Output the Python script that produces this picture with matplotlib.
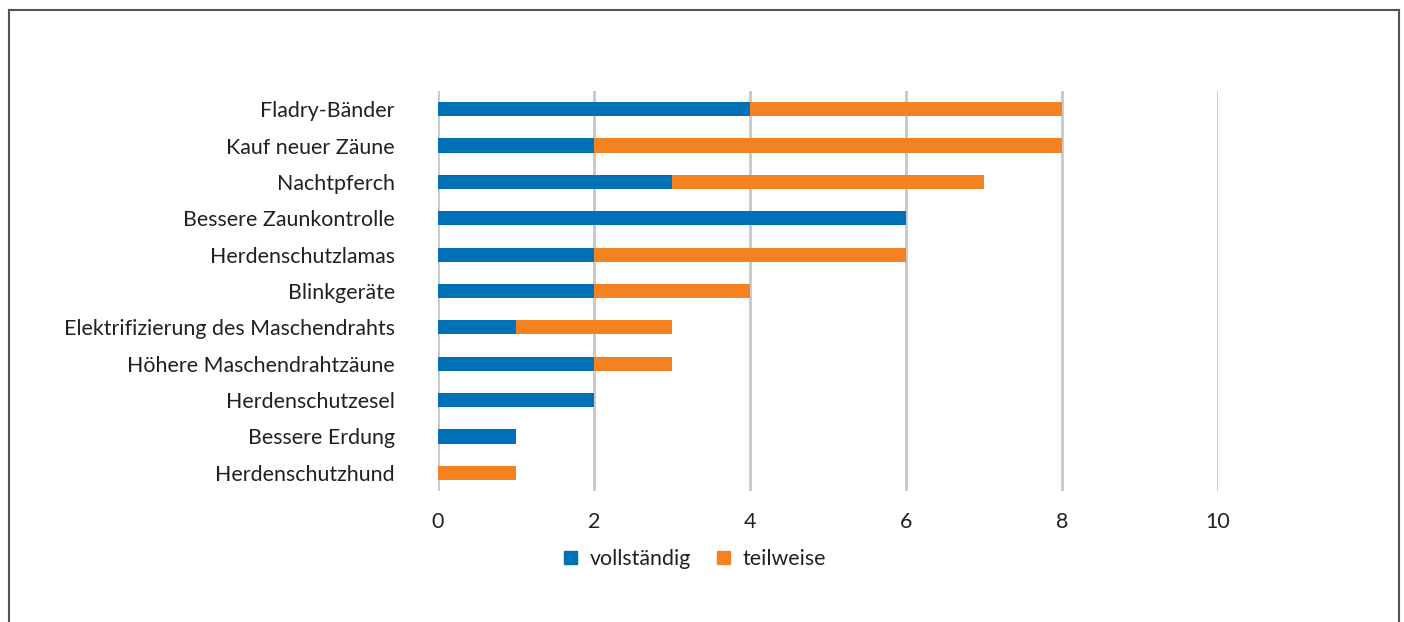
import matplotlib
matplotlib.use("Agg")
import matplotlib.pyplot as plt
from matplotlib.lines import Line2D
from matplotlib.patches import Patch

categories = ["Fladry-Bänder", "Kauf neuer Zäune", "Nachtpferch", "Bessere Zaunkontrolle",
              "Herdenschutzlamas", "Blinkgeräte", "Elektrifizierung des Maschendrahts",
              "Höhere Maschendrahtzäune", "Herdenschutzesel", "Bessere Erdung", "Herdenschutzhund"]
vollstaendig = [4, 2, 3, 6, 2, 2, 1, 2, 2, 1, 0]
teilweise = [4, 6, 4, 0, 4, 2, 2, 1, 0, 0, 1]
xticks = [0, 2, 4, 6, 8, 10]
series_names = ["vollständig", "teilweise"]

W, H = 1404, 622
fig = plt.figure(figsize=(W / 100, H / 100), dpi=100)
plt.rcParams['font.family'] = ['Lato', 'DejaVu Sans']
FS = 15.4

ax = fig.add_axes([438 / W, 1 - 491 / H, (1218 - 438) / W, (491 - 91) / H])
blue = "#0070B8"
orange = "#F58220"
y = list(range(len(categories)))
ax.barh(y, vollstaendig, height=0.39, color=blue, zorder=3)
ax.barh(y, teilweise, left=vollstaendig, height=0.39, color=orange, zorder=3)
ax.set_ylim(len(categories) - 0.5, -0.5)
ax.set_xlim(0, 10)
ax.set_xticks(xticks)
ax.set_xticklabels([str(t) for t in xticks])
ax.set_yticks(y)
ax.set_yticklabels(categories)
for t in xticks:
    ax.axvline(t, color="#C8C8C8", lw=2, zorder=1)
for s in ax.spines.values():
    s.set_visible(False)
ax.tick_params(axis="both", length=0, labelsize=FS, colors="#231F20")
ax.tick_params(axis="x", pad=15)
ax.tick_params(axis="y", pad=31)

handles = [Patch(color=blue), Patch(color=orange)]
fig.legend(handles, series_names, loc="center", bbox_to_anchor=(695 / W, 1 - 559 / H),
           ncol=2, frameon=False, fontsize=FS, handlelength=0.62, handleheight=0.62,
           handletextpad=0.6, columnspacing=1.2, labelcolor="#231F20")

# outer frame
fc = "#555555"
fig.add_artist(Line2D([9 / W, 9 / W], [0, 1 - 10 / H], transform=fig.transFigure, color=fc, lw=1.5))
fig.add_artist(Line2D([1399 / W, 1399 / W], [0, 1 - 10 / H], transform=fig.transFigure, color=fc, lw=1.5))
fig.add_artist(Line2D([9 / W, 1399 / W], [1 - 10 / H, 1 - 10 / H], transform=fig.transFigure, color=fc, lw=1.5))

fig.savefig("out.png", dpi=100)
